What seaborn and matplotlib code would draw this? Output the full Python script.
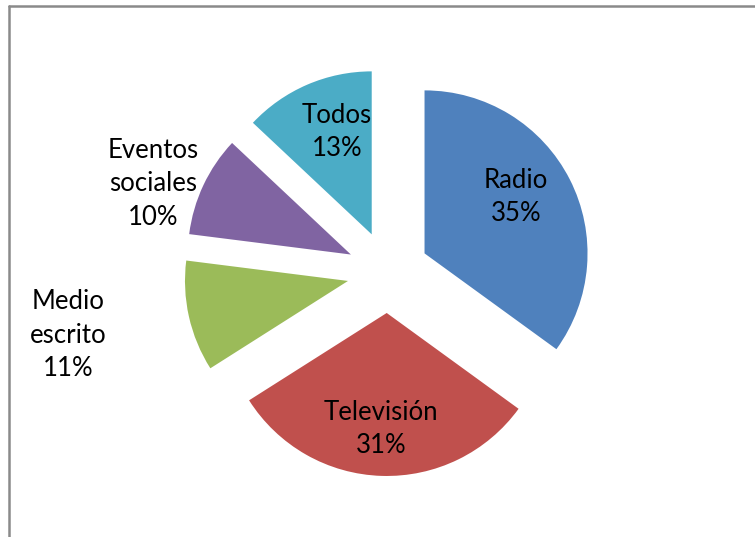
import matplotlib
matplotlib.use("Agg")
import matplotlib.pyplot as plt
import seaborn as sns
import numpy as np

# Medios de difusión preferidos
categories = ["Radio", "Televisión", "Medio escrito", "Eventos sociales", "Todos"]
label_lines = ["Radio", "Televisión", "Medio\nescrito", "Eventos\nsociales", "Todos"]
shares = [35, 31, 11, 10, 13]
colors = ["#4F81BD", "#C0504D", "#9BBB59", "#8064A2", "#4BACC6"]

sns.set_theme(style="white")
plt.rcParams["font.family"] = ["Lato", "DejaVu Sans"]

W, H = 755, 537
fig = plt.figure(figsize=(W / 100, H / 100), dpi=100)
ax = fig.add_axes([0, 0, 1, 1])

# pie geometry in units of the pie radius (163 px)
px = 163.0
cx, cy = 388.0, 272.0

explode = [41 / px] * len(shares)
wedges, _ = ax.pie(shares, colors=colors, startangle=90, counterclock=False,
                   explode=explode, radius=1.0, center=(0, 0),
                   wedgeprops=dict(linewidth=0))

ax.set_xlim(-cx / px, (W - cx) / px)
ax.set_ylim(-(H - cy) / px, cy / px)
ax.set_aspect("equal")
ax.axis("off")

# data label placement (radius units, relative to pie centre)
label_xy = [(0.785, 0.460), (-0.043, -0.963), (-1.963, -0.387),
            (-1.442, 0.540), (-0.313, 0.859)]
for text, val, (lx, ly) in zip(label_lines, shares, label_xy):
    ax.text(lx, ly, f"{text}\n{val}%", ha="center", va="center",
            fontsize=18.5, color="black", linespacing=1.42)

# chart area frame
fig.add_artist(plt.Line2D([8.5 / W, 8.5 / W], [0, 1 - 5.5 / H],
                          transform=fig.transFigure, color="#8a8a8a", lw=1.8))
fig.add_artist(plt.Line2D([8.5 / W, 1], [1 - 5.5 / H, 1 - 5.5 / H],
                          transform=fig.transFigure, color="#8a8a8a", lw=1.8))

fig.savefig("out.png", dpi=100)
